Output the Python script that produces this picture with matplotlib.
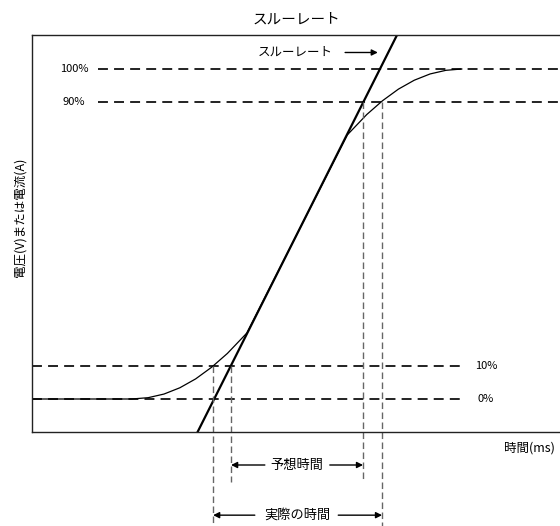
import matplotlib
matplotlib.use("Agg")
import matplotlib.pyplot as plt

plt.rcParams["font.family"] = ["Noto Sans CJK JP", "DejaVu Sans"]

# levels (fraction of full scale) and their labels
levels = [0.0, 0.1, 0.9, 1.0]
level_labels = ["0%", "10%", "90%", "100%"]

# response curve (time in % of axis width, value 0..1)
curve_t = [0.0, 18.9, 22.0, 25.0, 28.0, 31.0, 34.0, 37.0, 40.7,
           59.7, 63.4, 66.4, 69.4, 72.4, 75.4, 78.4, 81.4]
curve_v = [0.0, 0.0, 0.004, 0.015, 0.034, 0.061, 0.096, 0.138, 0.2,
           0.8, 0.862, 0.904, 0.939, 0.966, 0.985, 0.996, 1.0]

# slew-rate line passes through 0% and 100%
slew_t = [34.5, 65.9]
slew_v = [0.0, 1.0]

# crossing times of the 10% / 90% levels
t_curve_10, t_curve_90 = 34.3, 66.3
t_slew_10, t_slew_90 = 37.7, 62.7

fig = plt.figure(figsize=(5.6, 5.26), dpi=100)
ax = fig.add_axes([32 / 560, 94 / 526, 528 / 560, 397 / 526])
ax.set_xlim(0, 100)
ax.set_ylim(-0.1, 1.103)
ax.set_xticks([])
ax.set_yticks([])
ax.spines["right"].set_visible(False)
for s in ("left", "top", "bottom"):
    ax.spines[s].set_linewidth(1.0)
    ax.spines[s].set_color("#222222")

dash = dict(color="#111111", lw=1.3, dashes=(5.5, 3.4))
# lower levels run from the left edge, labels on the right
for v, lab in zip(levels[:2], level_labels[:2]):
    ax.plot([0, 81.6], [v, v], **dash)
    ax.text(86, v, lab, ha="center", va="center", fontsize=8)
# upper levels run to the right edge, labels on the left
for v, lab in zip(levels[2:], level_labels[2:]):
    ax.plot([12.5, 100], [v, v], **dash)
    ax.text(8, v, lab, ha="center", va="center", fontsize=8)

ax.plot(curve_t, curve_v, color="black", lw=0.9)
ax.axline((slew_t[0], slew_v[0]), (slew_t[1], slew_v[1]), color="black", lw=1.6)

vdash = dict(color="#666666", lw=1.0, dashes=(4.7, 2.5), clip_on=False)
ax.plot([t_curve_10, t_curve_10], [0.1, -0.385], **vdash)
ax.plot([t_slew_10, t_slew_10], [0.1, -0.252], **vdash)
ax.plot([t_slew_90, t_slew_90], [0.9, -0.245], **vdash)
ax.plot([t_curve_90, t_curve_90], [0.9, -0.385], **vdash)

arrow = dict(arrowstyle="-|>", color="black", lw=1.0, mutation_scale=9,
             shrinkA=0, shrinkB=0)

# slew rate label
ax.text(57, 1.05, "スルーレート", ha="right", va="center", fontsize=9)
ax.annotate("", xy=(65.5, 1.05), xytext=(59.3, 1.05), arrowprops=arrow,
            annotation_clip=False)

# expected time
y_exp = -0.2
ax.text(50.2, y_exp, "予想時間", ha="center", va="center", fontsize=9.5)
ax.annotate("", xy=(t_slew_10, y_exp), xytext=(44.1, y_exp), arrowprops=arrow,
            annotation_clip=False)
ax.annotate("", xy=(t_slew_90, y_exp), xytext=(56.4, y_exp), arrowprops=arrow,
            annotation_clip=False)

# actual time
y_act = -0.352
ax.text(50.2, y_act, "実際の時間", ha="center", va="center", fontsize=9.5)
ax.annotate("", xy=(t_curve_10, y_act), xytext=(42.2, y_act), arrowprops=arrow,
            annotation_clip=False)
ax.annotate("", xy=(t_curve_90, y_act), xytext=(58.0, y_act), arrowprops=arrow,
            annotation_clip=False)

fig.text(555 / 560, 1 - 448 / 526, "時間(ms)", ha="right", va="center", fontsize=9)
fig.text(20 / 560, 1 - 217 / 526, "電圧(V)または電流(A)", rotation=90,
         ha="center", va="center", fontsize=9)
fig.text(296 / 560, 1 - 20 / 526, "スルーレート", ha="center", va="center",
         fontsize=10.5)

fig.savefig("out.png", dpi=100)
